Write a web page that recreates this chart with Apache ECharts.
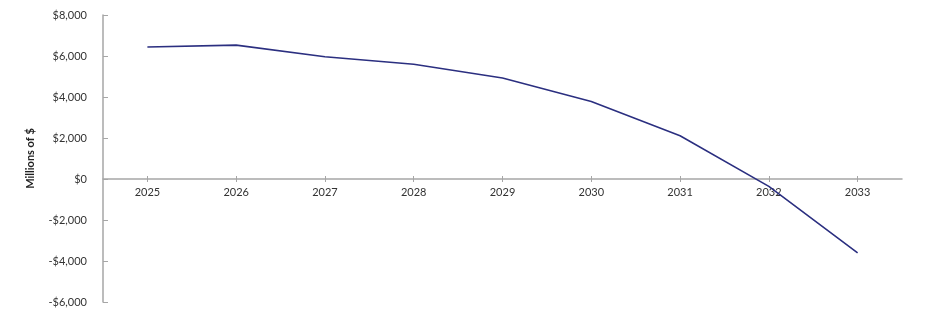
<!DOCTYPE html>
<html><head><meta charset="utf-8">
<script src="https://cdn.jsdelivr.net/npm/echarts@6/dist/echarts.min.js"></script>
<style>html,body{margin:0;padding:0;background:#fff}#c{width:926px;height:318px}</style>
</head><body><div id="c"></div>
<script>
const categories = ['2025','2026','2027','2028','2029','2030','2031','2032','2033'];
const values = [6440, 6530, 5960, 5600, 4930, 3780, 2110, -360, -3600];
const yTicks = { min: -6000, max: 8000, interval: 2000 };
const yName = 'Millions of $';

function fmt(v){
  const s = '$' + Math.abs(v).toLocaleString('en-US');
  return v < 0 ? '-' + s : s;
}
const font = 'Lato, "Open Sans", sans-serif';
const axisColor = '#A6A6A6';
const gridTop = 15, gridH = 287;
// x axis sits at value 0
const zeroOffset = -Math.round(gridH * (0 - yTicks.min) / (yTicks.max - yTicks.min));
const chart = echarts.init(document.getElementById('c'), null, {renderer:'canvas'});
chart.setOption({
  animation: false,
  grid: { left: 103, top: gridTop, width: 799, height: gridH, containLabel: false },
  xAxis: [{
    type: 'category', data: categories, boundaryGap: true, position: 'bottom', offset: zeroOffset,
    axisLine: { onZero: false, lineStyle: { color: axisColor, width: 1.5 } },
    axisTick: { show: true, alignWithLabel: true, length: 3, lineStyle: { color: axisColor } },
    axisLabel: { color: '#333', fontFamily: font, fontSize: 11, margin: 8 },
    splitLine: { show: false }
  },{
    type: 'category', data: categories, boundaryGap: true, position: 'bottom', offset: zeroOffset,
    axisLine: { onZero: false, show: false },
    axisTick: { show: true, inside: true, alignWithLabel: true, length: 3, lineStyle: { color: axisColor } },
    axisLabel: { show: false },
    splitLine: { show: false }
  }],
  yAxis: {
    type: 'value', min: yTicks.min, max: yTicks.max, interval: yTicks.interval,
    name: yName, nameLocation: 'middle', nameGap: 67, nameRotate: 90,
    nameTextStyle: { fontFamily: font, fontSize: 11, fontWeight: 'bold', color: '#222' },
    axisLine: { show: true, lineStyle: { color: axisColor, width: 1.5 } },
    axisTick: { show: true, inside: true, length: 5, lineStyle: { color: axisColor } },
    axisLabel: { color: '#333', fontFamily: font, fontSize: 11, margin: 16, formatter: fmt },
    splitLine: { show: false }
  },
  series: [{
    type: 'line', data: values, showSymbol: false, symbol: 'none',
    lineStyle: { color: '#2B2F80', width: 1.6 }
  }]
});
</script></body></html>
